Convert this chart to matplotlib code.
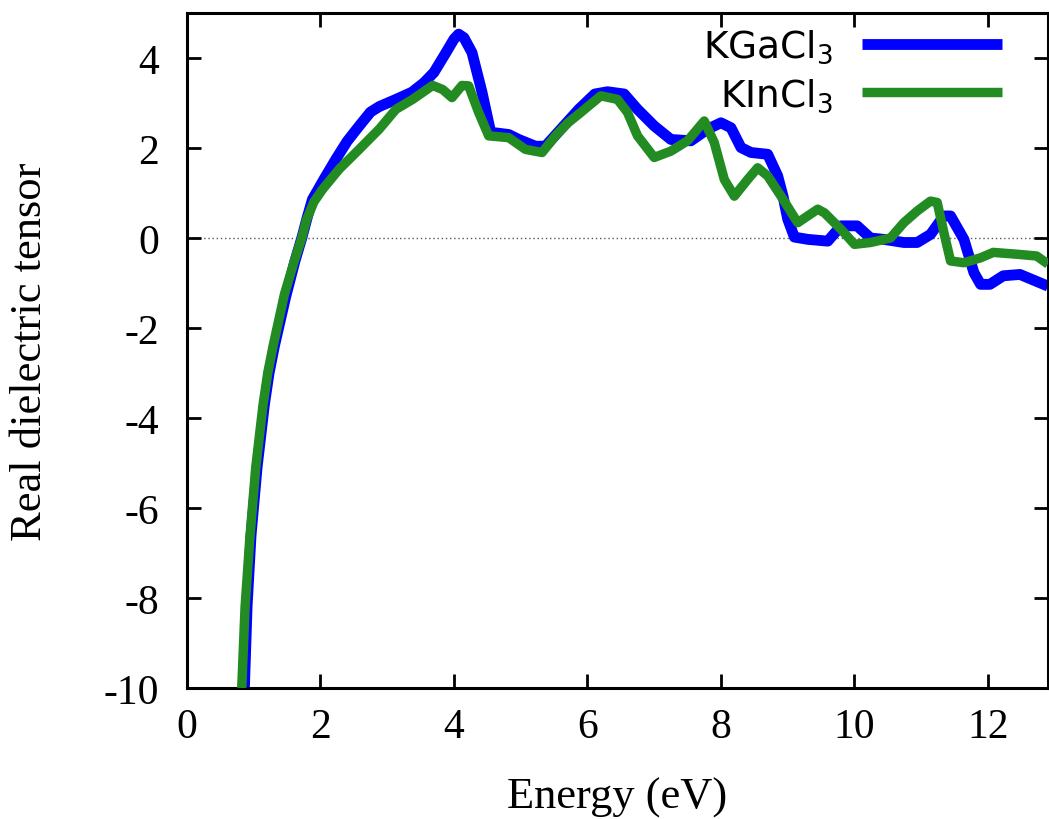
import matplotlib
matplotlib.use("Agg")
import matplotlib.pyplot as plt

# Real part of the dielectric tensor vs photon energy
energy_ga = [0.86, 0.90, 0.96, 1.05, 1.16, 1.23, 1.31, 1.48, 1.62, 1.72, 1.80, 1.88, 2.05,
             2.23, 2.40, 2.58, 2.75, 2.88, 3.13, 3.37, 3.55, 3.70, 3.88, 4.00, 4.07, 4.15,
             4.27, 4.42, 4.55, 4.82, 4.97, 5.22, 5.37, 5.62, 5.87, 6.11, 6.30, 6.55, 6.75,
             7.00, 7.25, 7.55, 7.80, 8.00, 8.15, 8.30, 8.45, 8.70, 8.85, 8.93, 9.00, 9.10,
             9.30, 9.60, 9.80, 10.04, 10.24, 10.44, 10.74, 10.94, 11.14, 11.34, 11.44,
             11.64, 11.79, 11.89, 12.03, 12.23, 12.48, 12.90]
eps_ga = [-10.0, -8.2, -6.6, -5.1, -3.7, -3.0, -2.4, -1.3, -0.5, 0.0, 0.45, 0.86, 1.30,
          1.75, 2.15, 2.49, 2.80, 2.92, 3.08, 3.24, 3.45, 3.68, 4.12, 4.42, 4.53, 4.45,
          4.12, 3.24, 2.35, 2.30, 2.19, 2.04, 2.04, 2.45, 2.86, 3.20, 3.25, 3.20, 2.86,
          2.49, 2.19, 2.16, 2.42, 2.56, 2.45, 2.01, 1.90, 1.86, 1.38, 0.93, 0.42, 0.02,
          -0.03, -0.07, 0.27, 0.27, 0.0, -0.03, -0.10, -0.10, 0.08, 0.49, 0.49,
          -0.03, -0.77, -1.03, -1.03, -0.84, -0.81, -1.07]

energy_in = [0.82, 0.87, 0.94, 1.03, 1.14, 1.21, 1.29, 1.46, 1.61, 1.72, 1.79, 1.90, 2.03,
             2.28, 2.58, 2.88, 3.13, 3.38, 3.68, 3.83, 3.97, 4.12, 4.22, 4.37, 4.52, 4.82,
             5.07, 5.32, 5.52, 5.70, 5.90, 6.20, 6.45, 6.60, 6.75, 7.00, 7.25, 7.50, 7.75,
             7.90, 8.05, 8.20, 8.40, 8.55, 8.70, 8.90, 9.15, 9.45, 9.55, 9.80, 10.00,
             10.24, 10.54, 10.74, 10.94, 11.14, 11.24, 11.34, 11.44, 11.64, 11.89, 12.08,
             12.43, 12.73, 12.90]
eps_in = [-10.0, -8.2, -6.7, -5.1, -3.7, -3.0, -2.4, -1.25, -0.5, 0.0, 0.40, 0.80, 1.08,
          1.53, 1.97, 2.42, 2.86, 3.08, 3.39, 3.30, 3.12, 3.39, 3.38, 2.79, 2.27, 2.23,
          1.97, 1.90, 2.27, 2.55, 2.79, 3.16, 3.08, 2.79, 2.27, 1.79, 1.93, 2.16, 2.60,
          2.12, 1.30, 0.93, 1.30, 1.56, 1.38, 0.93, 0.34, 0.64, 0.56, 0.19, -0.14,
          -0.10, 0.0, 0.34, 0.60, 0.82, 0.79, 0.12, -0.51, -0.55, -0.44, -0.32,
          -0.36, -0.40, -0.58]

labels = ["KGaCl$_3$", "KInCl$_3$"]
xticks = [0, 2, 4, 6, 8, 10, 12]
yticks = [-10, -8, -6, -4, -2, 0, 2, 4]

plt.rcParams["font.family"] = ["Liberation Serif", "DejaVu Serif"]
plt.rcParams["mathtext.fontset"] = "dejavusans"
plt.rcParams["axes.unicode_minus"] = False

fig = plt.figure(figsize=(10.49, 8.2), dpi=100)
ax = fig.add_axes([187 / 1049, 1 - 689 / 820, 861 / 1049, 675 / 820])

ax.axhline(0, color="0.35", lw=1.0, ls=(0, (1, 2)), zorder=1)
ax.plot(energy_ga, eps_ga, color="#0000ff", lw=7.8, label=labels[0], zorder=2,
        solid_joinstyle="round", solid_capstyle="butt")
ax.plot(energy_in, eps_in, color="#228b22", lw=6.8, label=labels[1], zorder=3,
        solid_joinstyle="round", solid_capstyle="butt")

ax.set_xlim(0, 12.9)
ax.set_ylim(-10, 5)
ax.set_xticks(xticks)
ax.set_yticks(yticks)
ax.tick_params(direction="in", length=10, width=2, top=True, right=True,
               labelsize=30)
ax.tick_params(axis="x", pad=14)
ax.tick_params(axis="y", pad=20)
for sp in ax.spines.values():
    sp.set_linewidth(2.2)

ax.set_xlabel("Energy (eV)", fontsize=32, labelpad=22)
ax.set_ylabel("Real dielectric tensor", fontsize=32, labelpad=39)

leg = ax.legend(loc="upper right", bbox_to_anchor=(0.946, 0.978), frameon=False,
                markerfirst=False, handlelength=3.73, handletextpad=0.77,
                labelspacing=0.28, borderpad=0, borderaxespad=0,
                prop={"family": "DejaVu Sans", "size": 27})
for t in leg.get_texts():
    t.set_ha("right")

fig.savefig("out.png", dpi=100)
